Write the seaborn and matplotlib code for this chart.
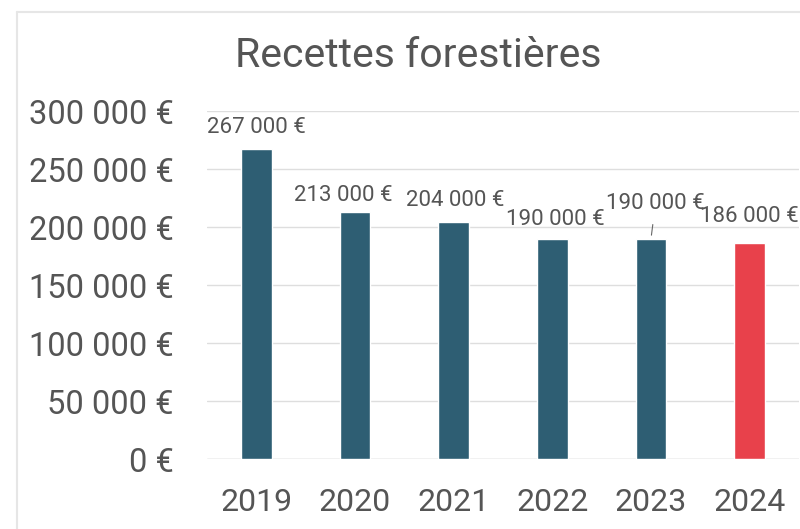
import matplotlib
matplotlib.use("Agg")
import matplotlib.pyplot as plt
from matplotlib.lines import Line2D
import seaborn as sns
import pandas as pd

# ---- data ----
years = ["2019", "2020", "2021", "2022", "2023", "2024"]
values = [267000, 213000, 204000, 190000, 190000, 186000]
bar_colors = ["#2E5E73", "#2E5E73", "#2E5E73", "#2E5E73", "#2E5E73", "#E8414B"]
yticks = [0, 50000, 100000, 150000, 200000, 250000, 300000]
title = "Recettes forestières"

# label offsets in points (dx, dy) relative to bar top centre
label_offsets = [(0, 15.5), (-8.5, 12), (1, 16), (2, 14), (3.2, 25), (0, 19)]
leader = [False, False, False, False, True, False]

def euro(v):
    return f"{int(v):,}".replace(",", " ") + " €"

sns.set_theme(style="white")
plt.rcParams["font.family"] = ["Roboto", "DejaVu Sans"]
text_color = "#555555"

df = pd.DataFrame({"year": years, "value": values})

fig = plt.figure(figsize=(8, 5.29), dpi=100)
ax = fig.add_axes([207 / 800, 1 - 459 / 529, 592 / 800, (459 - 111) / 529])

sns.barplot(data=df, x="year", y="value", hue="year", palette=bar_colors,
            width=0.31, saturation=1, legend=False, ax=ax, zorder=3)

ax.set_ylim(0, 300000)
ax.set_xlim(-0.5, len(years) - 0.5)
ax.set_yticks(yticks)
ax.set_yticklabels([euro(v) for v in yticks])
ax.yaxis.grid(True, color="#dedede", linewidth=1.0, zorder=0)
ax.xaxis.grid(False)
for s in ax.spines.values():
    s.set_visible(False)
ax.axhline(0, color="#d9d9d9", linewidth=1.0, zorder=1)
ax.tick_params(axis="y", length=0, pad=24, labelsize=23.5, labelcolor=text_color)
ax.tick_params(axis="x", length=0, pad=21, labelsize=23, labelcolor=text_color)
ax.set_xlabel("")
ax.set_ylabel("")

for i, (v, (dx, dy), ld) in enumerate(zip(values, label_offsets, leader)):
    if ld:
        ax.annotate(euro(v), xy=(i, v), xytext=(dx, dy), textcoords="offset points",
                    ha="center", va="center", fontsize=16, color=text_color,
                    arrowprops=dict(arrowstyle="-", color="#666666", lw=0.8,
                                    shrinkA=5, shrinkB=2.5),
                    annotation_clip=False)
    else:
        ax.annotate(euro(v), xy=(i, v), xytext=(dx, dy), textcoords="offset points",
                    ha="center", va="center", fontsize=16, color=text_color,
                    annotation_clip=False)

fig.text(418 / 800, 1 - 66.7 / 529, title, ha="center", va="baseline",
         fontsize=29.5, color=text_color)

# faint chart border (top and left)
fig.add_artist(Line2D([17 / 800, 1], [1 - 12 / 529, 1 - 12 / 529],
                      transform=fig.transFigure, color="#e6e6e6", lw=1.5))
fig.add_artist(Line2D([17 / 800, 17 / 800], [0, 1 - 12 / 529],
                      transform=fig.transFigure, color="#e6e6e6", lw=1.5))

fig.savefig("out.png", dpi=100)
